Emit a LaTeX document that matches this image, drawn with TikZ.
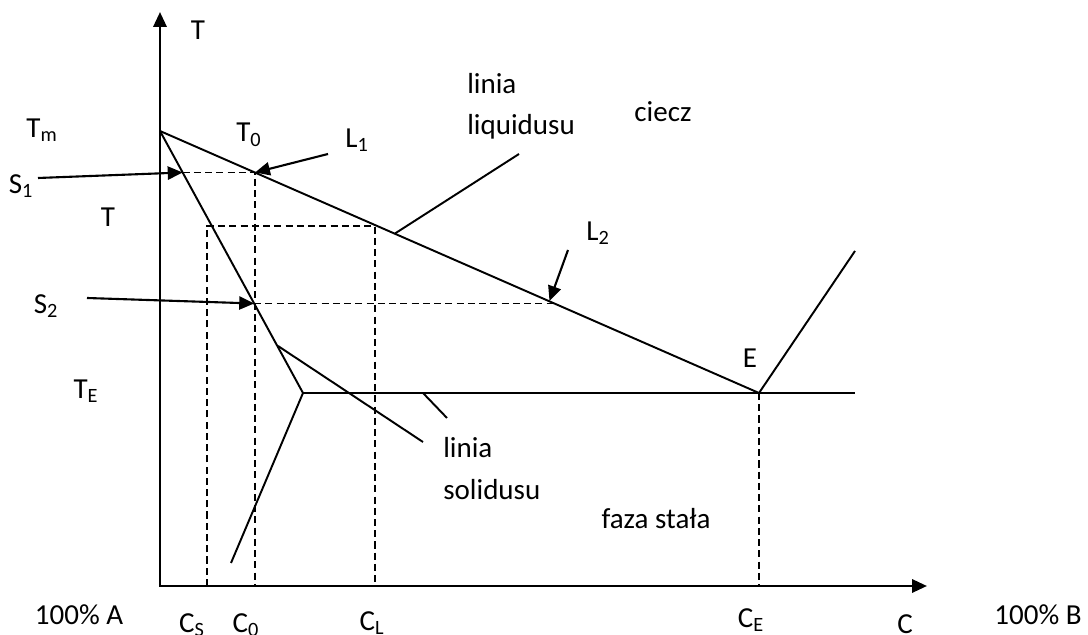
\documentclass[tikz,border=0pt]{standalone}
\usepackage{fontspec}
\setmainfont{Carlito}
\usetikzlibrary{arrows.meta}

\begin{document}
\begin{tikzpicture}[
    axis/.style={line width=1.5pt, {Triangle[length=8.5pt,width=7.5pt]}-{Triangle[length=8.5pt,width=7.5pt]}},
    curve/.style={line width=1.1pt},
    guide/.style={line width=0.9pt, dash pattern=on 4pt off 2.4pt},
    pointer/.style={line width=1.2pt, -{Triangle[length=8.5pt,width=7.5pt]}},
    lbl/.style={font=\fontsize{16.5}{23.5}\selectfont, inner sep=0pt}
]
    \useasboundingbox (-3.2,-0.98) rectangle (18.56,11.72);

    % axes
    \coordinate (O) at (0,0);
    \coordinate (ytop) at (0,11.48);
    \coordinate (xend) at (15.34,0);
    \draw[axis] (ytop) -- (O) -- (xend);
    \node[lbl] (T) at (0.76,11.12) {T};
    \node[lbl] (C) at (14.9,-0.76) {C};
    \node[lbl] (pA) at (-1.62,-0.58) {100\% A};
    \node[lbl] (pB) at (17.56,-0.58) {100\% B};

    % liquidus, solidus, eutectic
    \coordinate (Tm) at (0,9.10);
    \coordinate (E) at (11.98,3.86);
    \coordinate (P) at (2.86,3.86);
    \coordinate (solend) at (1.42,0.46);
    \coordinate (Btop) at (13.90,6.70);
    \coordinate (eutend) at (13.90,3.86);
    \draw[curve] (Tm) -- (E) -- (Btop);
    \draw[curve] (Tm) -- (P) -- (solend);
    \draw[curve] (P) -- (eutend);

    % tie lines and concentrations
    \coordinate (s1) at (0.453,8.27);
    \coordinate (l1) at (1.9,8.27);
    \coordinate (cs) at (0.94,7.2);
    \coordinate (cl) at (4.30,7.2);
    \coordinate (s2) at (1.883,5.65);
    \coordinate (l2) at (7.887,5.65);
    \coordinate (csb) at (0.94,0);
    \coordinate (c0b) at (1.9,0);
    \coordinate (clb) at (4.30,0);
    \coordinate (ceb) at (11.98,0);
    \draw[guide] (s1) -- (l1) -- (c0b);
    \draw[guide] (csb) -- (cs) -- (cl) -- (clb);
    \draw[guide] (s2) -- (l2);
    \draw[guide] (E) -- (ceb);

    \node[lbl] (CS) at (0.64,-0.78) {C\textsubscript{S}};
    \node[lbl] (C0) at (1.72,-0.78) {C\textsubscript{0}};
    \node[lbl] (CL) at (4.24,-0.74) {C\textsubscript{L}};
    \node[lbl] (CE) at (11.82,-0.68) {C\textsubscript{E}};

    % temperatures
    \node[lbl] (Tmlab) at (-2.36,9.12) {T\textsubscript{m}};
    \node[lbl] (T0) at (1.78,9.02) {T\textsubscript{0}};
    \node[lbl] (Tmid) at (-1.04,7.38) {T};
    \node[lbl] (TE) at (-1.48,3.90) {T\textsubscript{E}};
    \node[lbl] (Elab) at (11.8,4.56) {E};

    % points on the lines
    \node[lbl] (S1) at (-2.78,8.0) {S\textsubscript{1}};
    \node[lbl] (L1) at (3.94,8.92) {L\textsubscript{1}};
    \node[lbl] (S2) at (-2.28,5.60) {S\textsubscript{2}};
    \node[lbl] (L2) at (8.76,7.06) {L\textsubscript{2}};
    \coordinate (S1t) at (-2.44,8.16);
    \coordinate (L1t) at (3.36,8.64);
    \coordinate (S2t) at (-1.46,5.76);
    \coordinate (L2t) at (8.16,6.72);
    \draw[pointer] (S1t) -- (s1);
    \draw[pointer] (L1t) -- (l1);
    \draw[pointer] (S2t) -- (s2);
    \draw[pointer] (L2t) -- (7.79,5.70);

    % region and line names
    \node[lbl, align=left, anchor=west] (liq) at (6.14,9.6) {linia\\liquidusu};
    \node[lbl, align=left, anchor=west] (sol) at (5.66,2.35) {linia\\solidusu};
    \node[lbl] (ciecz) at (10.06,9.48) {ciecz};
    \node[lbl] (faza) at (9.92,1.34) {faza stała};
    \coordinate (liqa) at (4.70,7.05);
    \coordinate (liqb) at (7.18,8.64);
    \coordinate (sola) at (2.36,4.80);
    \coordinate (solb) at (5.26,2.88);
    \coordinate (euta) at (5.26,3.86);
    \coordinate (eutb) at (5.74,3.36);
    \draw[curve] (liqa) -- (liqb);
    \draw[curve] (sola) -- (solb);
    \draw[curve] (euta) -- (eutb);
\end{tikzpicture}
\end{document}
